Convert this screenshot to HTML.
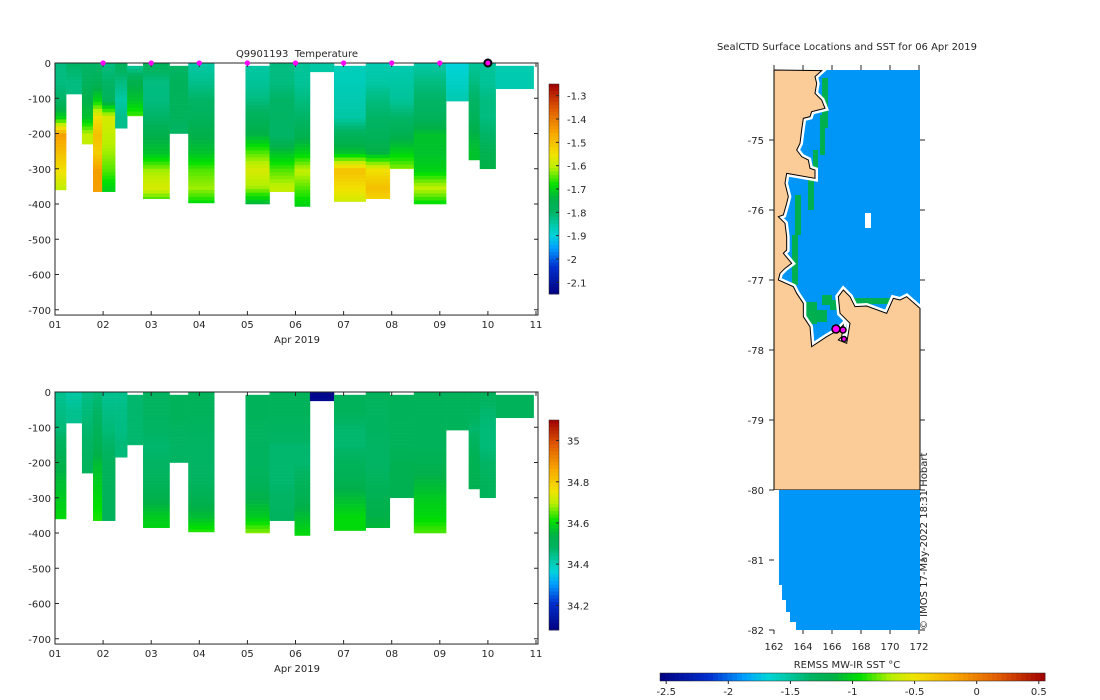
<!DOCTYPE html>
<html><head><meta charset="utf-8"><style>
body{margin:0;background:#fff;}
svg{display:block;font-family:"DejaVu Sans","Liberation Sans",sans-serif;}
text{fill:#262626;font-size:10px;white-space:pre;}
</style></head><body>
<svg id="svg" width="1100" height="700" viewBox="0 0 1100 700"></svg>
<script>
// ---- data ----
const profStart=[0,0.23,0.56,0.79,0.98,1.25,1.5,1.83,2.38,2.77,3.96,4.46,4.98,5.3,5.8,6.46,6.96,7.46,8.13,8.6,8.83,9.16];
const profEnd=[0.23,0.56,0.79,0.98,1.25,1.5,1.83,2.38,2.77,3.31,4.46,4.98,5.3,5.8,6.46,6.96,7.46,8.13,8.6,8.83,9.16,9.95];
const profTop=[0,0,0,0,0,0,8,0,8,0,8,0,0,0,8,0,8,0,0,0,0,8];
const profDepth=[360,88,230,365,365,185,150,385,200,397,400,365,407,25,393,385,300,400,108,275,300,73];
const tempVals=[
[-1.82,-1.82,-1.8,-1.7,-1.45,-1.5,-1.55,-1.6],
[-1.8,-1.82],
[-1.8,-1.78,-1.75,-1.72,-1.6],
[-1.8,-1.77,-1.7,-1.55,-1.5,-1.52,-1.45,-1.45],
[-1.82,-1.8,-1.78,-1.58,-1.6,-1.62,-1.65,-1.7],
[-1.78,-1.82,-1.85,-1.83],
[-1.85,-1.75,-1.72,-1.65],
[-1.78,-1.82,-1.82,-1.8,-1.75,-1.72,-1.62,-1.58,-1.7],
[-1.8,-1.78,-1.78,-1.78,-1.8],
[-1.85,-1.83,-1.8,-1.78,-1.75,-1.72,-1.65,-1.62,-1.7],
[-1.85,-1.84,-1.82,-1.78,-1.74,-1.65,-1.58,-1.62,-1.75],
[-1.82,-1.82,-1.8,-1.8,-1.8,-1.72,-1.65,-1.6],
[-1.84,-1.84,-1.82,-1.8,-1.76,-1.7,-1.6,-1.65,-1.7],
[-1.85],
[-1.87,-1.87,-1.86,-1.85,-1.78,-1.72,-1.5,-1.55,-1.6],
[-1.86,-1.85,-1.82,-1.8,-1.78,-1.74,-1.55,-1.5,-1.55],
[-1.86,-1.85,-1.84,-1.8,-1.76,-1.7,-1.62],
[-1.85,-1.82,-1.8,-1.78,-1.72,-1.72,-1.7,-1.6,-1.7],
[-1.9,-1.88,-1.86],
[-1.84,-1.82,-1.8,-1.78,-1.74,-1.72],
[-1.84,-1.84,-1.82,-1.82,-1.8,-1.76,-1.74],
[-1.86,-1.86]];
const salVals=[
[34.44,34.45,34.46,34.5,34.53,34.56,34.58,34.6],
[34.42,34.44],
[34.45,34.46,34.47,34.48,34.5],
[34.46,34.48,34.5,34.52,34.56,34.58,34.6,34.62],
[34.44,34.45,34.46,34.48,34.5],
[34.44,34.45,34.45,34.46],
[34.47,34.47,34.47,34.47],
[34.49,34.49,34.48,34.47,34.48,34.5,34.53,34.58,34.6],
[34.5,34.5,34.49,34.48,34.48],
[34.5,34.5,34.49,34.48,34.48,34.49,34.52,34.56,34.64],
[34.5,34.5,34.49,34.49,34.49,34.5,34.54,34.58,34.68],
[34.5,34.5,34.49,34.47,34.47,34.47,34.48,34.49],
[34.5,34.5,34.49,34.47,34.47,34.5,34.52,34.56,34.6],
[34.1],
[34.5,34.5,34.47,34.47,34.5,34.52,34.56,34.6,34.6],
[34.5,34.49,34.49,34.48,34.48,34.5,34.52,34.54,34.56],
[34.5,34.5,34.5,34.5,34.52,34.52,34.52],
[34.5,34.5,34.5,34.5,34.52,34.55,34.58,34.6,34.65],
[34.5,34.5,34.5],
[34.5,34.5,34.47,34.5,34.52,34.52],
[34.5,34.47,34.46,34.46,34.48,34.5,34.5],
[34.5,34.5]];
const dayTicks=["01","02","03","04","05","06","07","08","09","10","11"];
const depthTicks=[0,-100,-200,-300,-400,-500,-600,-700];
const tempCbTicks=[-1.3,-1.4,-1.5,-1.6,-1.7,-1.8,-1.9,-2,-2.1];
const salCbTicks=[35,34.8,34.6,34.4,34.2];
const markerDays=[1,2,3,4,5,6,7,8,9];
const currentDay=[9];
const latTicks=[-75,-76,-77,-78,-79,-80,-81,-82];
const lonTicks=[162,164,166,168,170,172];
const sstTicks=[-2.5,-2,-1.5,-1,-0.5,0,0.5];

const NS="http://www.w3.org/2000/svg";
const svg=document.getElementById('svg');
function el(tag,attrs,parent){const e=document.createElementNS(NS,tag);for(const k in attrs)e.setAttribute(k,attrs[k]);(parent||svg).appendChild(e);return e;}
const stops=[[0,[0,0,128]],[0.13,[0,48,208]],[0.22,[0,160,255]],[0.28,[0,212,216]],[0.33,[0,200,168]],[0.39,[0,180,100]],[0.45,[0,176,72]],[0.52,[0,224,0]],[0.6,[184,240,0]],[0.66,[240,228,0]],[0.76,[248,170,0]],[0.88,[224,90,0]],[1,[160,0,0]]];
function cmap(t){t=Math.max(0,Math.min(1,t));for(let i=1;i<stops.length;i++){if(t<=stops[i][0]){const a=stops[i-1],b=stops[i];const f=(t-a[0])/(b[0]-a[0]);const c=a[1].map((v,j)=>Math.round(v+(b[1][j]-v)*f));return `rgb(${c})`;}}return 'rgb(160,0,0)';}

function drawSection(cfg){
  const g=el('g',{});
  
  
  const X=d=>55+d*48.1, Y=m=>cfg.y0+m*cfg.ppm;
  for(let p=0;p<profStart.length;p++){
    const vals=cfg.vals[p];
    for(let z=profTop[p];z<profDepth[p];z+=10){
      const zi=Math.min(z/50,vals.length-1);const i0=Math.floor(zi),i1=Math.min(i0+1,vals.length-1);
      const v=vals[i0]+(vals[i1]-vals[i0])*(zi-i0);
      const r=el('rect',{x:X(profStart[p]),y:Y(z),width:X(profEnd[p])-X(profStart[p])+0.3,height:Math.min(10,profDepth[p]-z)*cfg.ppm+0.3,fill:cmap((v-cfg.vmin)/(cfg.vmax-cfg.vmin))},g);
      
      
    }
  }
  const bottom=cfg.y0+715*cfg.ppm;
  const ax=el('rect',{x:55,y:cfg.y0,width:483,height:bottom-cfg.y0,fill:'none',stroke:'#262626','stroke-width':1});
  
  
  dayTicks.forEach((t,i)=>{const x=X(i);
    el('line',{x1:x,x2:x,y1:bottom,y2:bottom-4,stroke:'#262626'});
    el('line',{x1:x,x2:x,y1:cfg.y0,y2:cfg.y0+4,stroke:'#262626'});
    const tx=el('text',{x:x,y:bottom+13,'text-anchor':'middle'});tx.textContent=t;
    
    });
  depthTicks.forEach(d=>{const y=Y(-d);
    el('line',{x1:55,x2:59,y1:y,y2:y,stroke:'#262626'});
    el('line',{x1:538,x2:534,y1:y,y2:y,stroke:'#262626'});
    const tx=el('text',{x:51,y:y+4,'text-anchor':'end'});tx.textContent=d;
    
    });
  const xl=el('text',{x:297,y:bottom+28,'text-anchor':'middle','font-size':'11px'});xl.textContent='Apr 2019';
  
  
  const cb=el('g',{});
  
  
  const N=60,h=(cfg.cbBot-cfg.cbTop)/N;
  for(let i=0;i<N;i++)el('rect',{x:549,y:cfg.cbTop+i*h,width:10,height:h+0.4,fill:cmap(1-(i+0.5)/N)},cb);
  el('rect',{x:549,y:cfg.cbTop,width:10,height:cfg.cbBot-cfg.cbTop,fill:'none',stroke:'#262626','stroke-width':0.5},cb);
  cfg.cbTicks.forEach(v=>{const y=cfg.cbBot-(v-cfg.vmin)/(cfg.vmax-cfg.vmin)*(cfg.cbBot-cfg.cbTop);
    el('line',{x1:556,x2:559,y1:y,y2:y,stroke:'#262626'},cb);
    const tx=el('text',{x:567,y:y+4},cb);tx.textContent=v;
    
    });
  return {X,Y};
}
const top_=drawSection({name:'temperature-section',y0:63,ppm:0.3525,vals:tempVals,vmin:-2.15,vmax:-1.25,cbTop:84,cbBot:294,cbTicks:tempCbTicks});
drawSection({name:'salinity-section',y0:392,ppm:0.3525,vals:salVals,vmin:34.08,vmax:35.1,cbTop:420,cbBot:630,cbTicks:salCbTicks});
const tt=el('text',{x:297,y:57,'text-anchor':'middle','font-size':'11px'});tt.textContent='Q9901193  Temperature';


markerDays.forEach(d=>{const c=el('circle',{cx:top_.X(d),cy:63,r:2.6,fill:'#ff00ff'});
  
  });
currentDay.forEach(d=>{const c=el('circle',{cx:top_.X(d),cy:63,r:3.5,fill:'#ff00ff',stroke:'#000','stroke-width':2});
  
  });

// ---- map ----
const mg=el('g',{});


const LX=l=>774+(l-162)*14.5, LY=l=>140+(-75-l)*70;
el('rect',{x:774,y:70,width:146,height:420,fill:'#0096f8'},mg);
const coastZ=[[185,62],[165,80],[170,100],[165,130],[185,150],[195,175],[175,180],[155,185],[150,200],[130,205],[125,240],[120,280],[110,300],[125,320],[145,330],[150,355],[165,360],[165,385],[80,370],[75,400],[85,440],[80,460],[70,495],[55,500],[75,520],[80,560],[80,600],[70,610],[95,640],[75,655],[60,670],[55,690],[100,710],[110,730],[130,760],[130,800],[150,830],[155,890],[200,860],[235,840],[250,825],[245,860],[235,870],[260,880],[270,820],[240,790],[235,740],[250,720],[270,740],[285,770],[320,768],[380,790],[400,745],[420,750],[440,740],[480,775]];
const coast=coastZ.map(p=>[760+p[0]/3,50+p[1]/3]);
const landPts=coast.concat([[920,490],[774,490],[774,70]]).map(p=>p.join(',')).join(' ');
[[822,78,6,50],[820,115,5,40],[813,150,5,25],[808,175,6,35],[795,195,6,40],[792,235,6,50],[790,285,6,45],[798,320,8,18],[815,310,12,12],[822,295,10,10],[830,300,8,10],[850,298,45,6],[805,302,12,22]].forEach(r=>el('rect',{x:r[0],y:r[1],width:r[2],height:r[3],fill:'#00b050'},mg));
el('rect',{x:865,y:213,width:6,height:15,fill:'#fff'},mg);
el('polygon',{points:landPts,fill:'none',stroke:'#fff','stroke-width':6},mg);
const land=el('polygon',{points:landPts,fill:'#fccc98',stroke:'#000','stroke-width':1},mg);


el('rect',{x:774,y:490,width:146,height:140,fill:'#0096f8'},mg);
el('polygon',{points:'774,490 774,630 796,630 796,622 790,622 790,612 786,612 786,600 782,600 782,585 779,585 779,490',fill:'#fff'},mg);
[[836,329,4],[843,330,3],[844,339,2.5]].forEach(m=>{const c=el('circle',{cx:m[0],cy:m[1],r:m[2],fill:'#ff00ff',stroke:'#000','stroke-width':1.5},mg);
  
  });
const mt=el('text',{x:847,y:50,'text-anchor':'middle','font-size':'11px'});mt.textContent='SealCTD Surface Locations and SST for 06 Apr 2019';


latTicks.forEach(l=>{const y=LY(l);el('line',{x1:769,x2:774,y1:y,y2:y,stroke:'#262626'});el('line',{x1:920,x2:925,y1:y,y2:y,stroke:'#262626'});
  const t=el('text',{x:764,y:y+4,'text-anchor':'end'});t.textContent=l;
  
  });
lonTicks.forEach(l=>{const x=LX(l);el('line',{x1:x,x2:x,y1:630,y2:634,stroke:'#262626'});el('line',{x1:x,x2:x,y1:65,y2:70,stroke:'#262626'});
  const t=el('text',{x:x,y:650,'text-anchor':'middle'});t.textContent=l;
  
  });
const cr=el('text',{x:0,y:0,transform:'translate(927,630) rotate(-90)','font-size':'9px'});cr.textContent='© IMOS 17-May-2022 18:31 Hobart';


const hcb=el('g',{});


const HX=v=>660+(v+2.55)/3.1*385;
for(let i=0;i<80;i++)el('rect',{x:660+i*385/80,y:673,width:385/80+0.4,height:8,fill:cmap((i+0.5)/80)},hcb);
el('rect',{x:660,y:673,width:385,height:8,fill:'none',stroke:'#262626','stroke-width':0.5},hcb);
sstTicks.forEach(v=>{const x=HX(v);el('line',{x1:x,x2:x,y1:681,y2:684,stroke:'#262626'},hcb);
  const t=el('text',{x:x,y:695,'text-anchor':'middle'},hcb);t.textContent=v;
  
  });
const ht=el('text',{x:847,y:668,'text-anchor':'middle'});ht.textContent='REMSS MW-IR SST °C';


</script>
</body></html>
